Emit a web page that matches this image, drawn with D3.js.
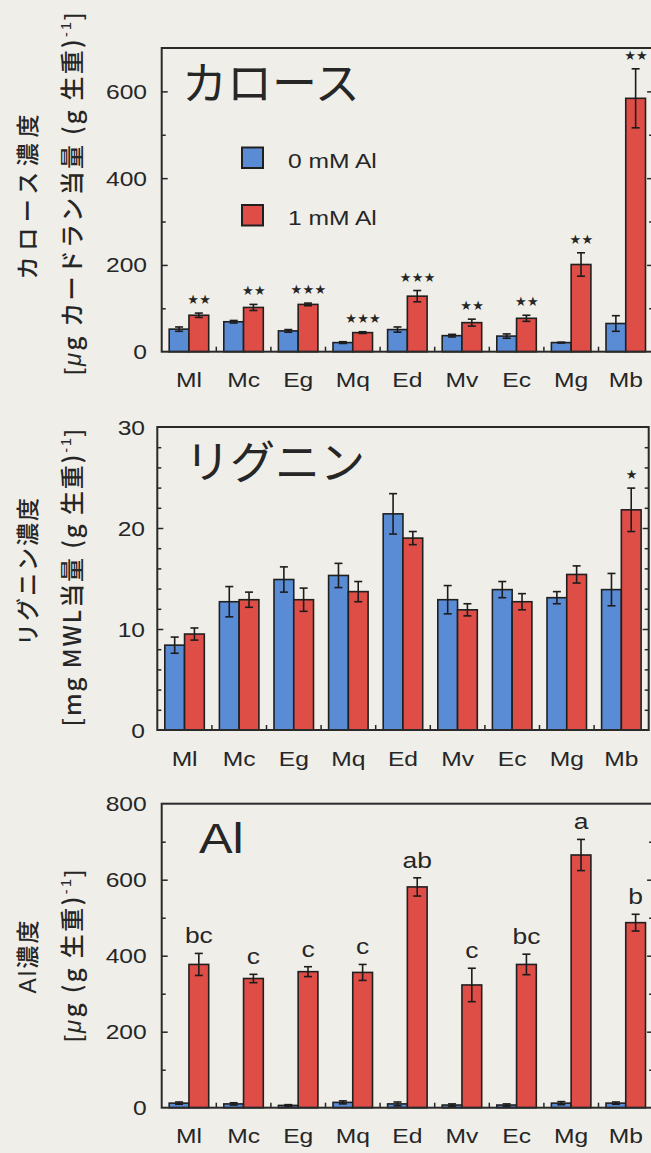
<!DOCTYPE html>
<html><head><meta charset="utf-8">
<script src="https://cdn.jsdelivr.net/npm/d3@7"></script>
<style>
html,body{margin:0;padding:0;background:#efeee9;}
svg{display:block;}
</style></head><body>
<svg id="fig" width="651" height="1153"></svg>
<script>
// Species (root samples)
const categories = ["Ml", "Mc", "Eg", "Mq", "Ed", "Mv", "Ec", "Mg", "Mb"];
const seriesNames = ["0 mM Al", "1 mM Al"];

// Callose concentration (µg curdlan equivalent per g fresh weight)
const callose0 = [52, 69, 48, 21, 51, 37, 36, 21, 65];
const callose0Err = [5, 3, 3, 2, 6, 3, 5, 1, 18];
const callose1 = [84, 102, 109, 44, 128, 67, 77, 201, 584];
const callose1Err = [5, 7, 3, 2, 13, 8, 7, 27, 68];
const calloseSig = ["★★", "★★", "★★★", "★★★", "★★★", "★★", "★★", "★★", "★★"];
const calloseTicks = [0, 200, 400, 600];

// Lignin concentration (mg MWL equivalent per g fresh weight)
const lignin0 = [8.4, 12.7, 14.9, 15.3, 21.4, 12.9, 13.9, 13.1, 13.9];
const lignin0Err = [0.8, 1.5, 1.25, 1.2, 2.0, 1.4, 0.8, 0.6, 1.6];
const lignin1 = [9.5, 12.9, 12.9, 13.7, 19.0, 11.9, 12.7, 15.4, 21.8];
const lignin1Err = [0.6, 0.75, 1.15, 1.0, 0.65, 0.6, 0.8, 0.85, 2.15];
const ligninSig = ["", "", "", "", "", "", "", "", "★"];
const ligninTicks = [0, 10, 20, 30];

// Al concentration (µg per g fresh weight)
const al0 = [12, 10, 6, 14, 10, 7, 7, 12, 12];
const al0Err = [3, 3, 2, 4, 5, 3, 3, 4, 3];
const al1 = [377, 340, 358, 356, 581, 323, 377, 665, 487];
const al1Err = [29, 11, 13, 21, 24, 44, 27, 41, 22];
const alLetters = ["bc", "c", "c", "c", "ab", "c", "bc", "a", "b"];
const alTicks = [0, 200, 400, 600, 800];

const svg = d3.select("#fig");
svg.append("rect").attr("width", 651).attr("height", 1153).attr("fill", "#efeee9");

const INK = "#262626";
const COLORS = ["#5a8cd6", "#df4d47"];
const LATIN = "'Liberation Sans', Arial, Helvetica, sans-serif";
const CJK = "'Noto Sans CJK JP', 'Noto Sans CJK SC', sans-serif";
const SX = 1.2;          // wide Latin face
const GROUP = 54.6;      // width of one species group

function wideText(g, x, y, str, size, anchor) {
  return g.append("text")
    .attr("transform", `translate(${x},${y}) scale(${SX},1)`)
    .attr("font-family", LATIN)
    .attr("font-size", size)
    .attr("text-anchor", anchor || "middle")
    .attr("fill", INK)
    .text(str);
}

function yTitle(g, cx, cy, parts, size, length) {
  const t = g.append("text")
    .attr("transform", `translate(${cx},${cy}) rotate(-90)`)
    .attr("text-anchor", "middle")
    .attr("dy", "0.36em")
    .attr("font-family", CJK)
    .attr("font-size", size)
    .attr("font-weight", 500)
    .attr("fill", INK)
    .attr("textLength", length)
    .attr("lengthAdjust", "spacing");
  parts.forEach(p => {
    const s = t.append("tspan").text(p.t);
    if (p.sup) s.attr("font-size", size * 0.6).attr("dy", -size * 0.42);
    if (p.down) s.attr("dy", size * 0.42);
    if (p.it) s.attr("font-style", "italic").attr("font-family", LATIN);
    if (p.latin) s.attr("font-family", LATIN);
  });
  return t;
}

function panel(p) {
  const g = svg.append("g");
  const right = p.left + categories.length * GROUP;
  const x = d3.scaleBand().domain(categories).range([p.left, right]).padding(0);
  const xi = d3.scaleBand().domain([0, 1]).range([7.5, 47]).padding(0);
  const y = d3.scaleLinear().domain([0, p.max]).range([p.bottom, p.top]);

  // inward ticks on left and right
  const minor = d3.range(p.step, p.max, p.step).filter(v => Math.abs(v % p.major) > 1e-9);
  const major = d3.range(p.major, p.max, p.major);
  const tickSets = [[minor, 4], [major, 6]];
  tickSets.forEach(([vals, len]) => {
    g.append("g").attr("transform", `translate(${p.left},0)`)
      .call(d3.axisLeft(y).tickValues(vals).tickSizeInner(-len).tickSizeOuter(0).tickFormat(""))
      .call(a => a.select(".domain").remove())
      .call(a => a.selectAll("line").attr("stroke", INK).attr("stroke-width", 1.5));
    g.append("g").attr("transform", `translate(${right},0)`)
      .call(d3.axisRight(y).tickValues(vals).tickSizeInner(-len).tickSizeOuter(0).tickFormat(""))
      .call(a => a.select(".domain").remove())
      .call(a => a.selectAll("line").attr("stroke", INK).attr("stroke-width", 1.5));
  });

  // y tick labels
  p.labels.forEach(v => wideText(g, p.labelRight, y(v) + 7.5, String(v), 20.5, "end"));

  // group separators on the category axis
  g.append("g").attr("transform", `translate(0,${p.bottom})`)
    .call(d3.axisBottom(x).tickValues(categories.slice(1)).tickSizeInner(-5).tickSizeOuter(0).tickFormat(""))
    .call(a => a.select(".domain").remove())
    .call(a => a.selectAll(".tick").attr("transform", d => `translate(${x(d)},0)`))
    .call(a => a.selectAll("line").attr("stroke", INK).attr("stroke-width", 1.5));

  // category labels
  categories.forEach(c => wideText(g, x(c) + x.bandwidth() / 2, p.bottom + 35.5, c, 20.5, "middle"));

  // bars + error bars
  [0, 1].forEach(s => {
    const vals = p.values[s], errs = p.errors[s];
    const d = categories.map((c, i) => ({ c, v: vals[i], e: errs[i] }));
    const bg = g.append("g");
    bg.selectAll("rect").data(d).join("rect")
      .attr("x", r => x(r.c) + xi(s))
      .attr("width", xi.bandwidth())
      .attr("y", r => y(r.v))
      .attr("height", r => y(0) - y(r.v))
      .attr("fill", COLORS[s])
      .attr("stroke", "#202020")
      .attr("stroke-width", 1.6);
    const eg = g.append("g").attr("stroke", "#1c1c1c").attr("stroke-width", 1.6);
    d.forEach(r => {
      const cx = x(r.c) + xi(s) + xi.bandwidth() / 2;
      const lo = y(Math.max(0, r.v - r.e)), hi = y(r.v + r.e);
      eg.append("line").attr("x1", cx).attr("x2", cx).attr("y1", lo).attr("y2", hi);
      eg.append("line").attr("x1", cx - 4).attr("x2", cx + 4).attr("y1", hi).attr("y2", hi);
      eg.append("line").attr("x1", cx - 4).attr("x2", cx + 4).attr("y1", lo).attr("y2", lo);
    });
  });

  // annotations over the 1 mM Al bars
  p.marks.forEach((m, i) => {
    if (!m) return;
    const c = categories[i];
    const cx = x(c) + xi(1) + xi.bandwidth() / 2;
    const top = y(p.values[1][i] + p.errors[1][i]);
    if (p.markType === "star") {
      g.append("text").attr("x", cx + 0.5).attr("y", top - 9)
        .attr("text-anchor", "middle")
        .attr("font-family", "'DejaVu Sans', sans-serif")
        .attr("font-size", 13).attr("letter-spacing", 0.3)
        .attr("fill", INK).text(m);
    } else {
      wideText(g, cx, top - 10, m, 22, "middle");
    }
  });

  // frame
  g.append("rect").attr("x", p.left).attr("y", p.top)
    .attr("width", right - p.left).attr("height", p.bottom - p.top)
    .attr("fill", "none").attr("stroke", "#2a2a2a").attr("stroke-width", 2);

  return { g, x, y };
}

// ---- Callose ----
const p1 = panel({
  left: 161.7, top: 48, bottom: 351.7, max: 700, step: 100, major: 200,
  labels: calloseTicks, labelRight: 147,
  values: [callose0, callose1], errors: [callose0Err, callose1Err],
  marks: calloseSig, markType: "star"
});
p1.g.append("text").attr("x", 182).attr("y", 100)
  .attr("font-family", CJK).attr("font-size", 45).attr("fill", INK).text("カロース");
// legend
[0, 1].forEach(s => {
  const ly = s === 0 ? 147.5 : 205;
  p1.g.append("rect").attr("x", 242).attr("y", ly).attr("width", 21).attr("height", 20.5)
    .attr("fill", COLORS[s]).attr("stroke", "#202020").attr("stroke-width", 2);
  wideText(p1.g, 288, ly + 20, seriesNames[s], 20.5, "start");
});
yTitle(svg, 28, 197, [{ t: "カロース濃度" }], 23, 165);
yTitle(svg, 72, 194, [
  { t: "[" , latin: true }, { t: "μ", it: true }, { t: "g カードラン当量 (g 生重)" },
  { t: "-1", sup: true, latin: true }, { t: "]", down: true, latin: true }
], 24, 362);

// ---- Lignin ----
const p2 = panel({
  left: 157.3, top: 427, bottom: 730, max: 30, step: 2, major: 10,
  labels: ligninTicks, labelRight: 145,
  values: [lignin0, lignin1], errors: [lignin0Err, lignin1Err],
  marks: ligninSig, markType: "star"
});
p2.g.append("text").attr("x", 185).attr("y", 479)
  .attr("font-family", CJK).attr("font-size", 45).attr("fill", INK).text("リグニン");
yTitle(svg, 28, 572, [{ t: "リグニン濃度" }], 23, 148);
yTitle(svg, 72, 578, [
  { t: "[mg MWL当量 (g 生重)" },
  { t: "-1", sup: true, latin: true }, { t: "]", down: true, latin: true }
], 24, 297);

// ---- Al ----
const p3 = panel({
  left: 161.7, top: 803.7, bottom: 1107.7, max: 800, step: 100, major: 200,
  labels: alTicks, labelRight: 146.7,
  values: [al0, al1], errors: [al0Err, al1Err],
  marks: alLetters, markType: "letter"
});
wideText(p3.g, 199, 853, "Al", 42, "start");
yTitle(svg, 28, 957, [{ t: "Al", latin: true }, { t: "濃度" }], 23, 73);
yTitle(svg, 72, 956, [
  { t: "[" , latin: true }, { t: "μ", it: true }, { t: "g (g  生重)" },
  { t: "-1", sup: true, latin: true }, { t: "]", down: true, latin: true }
], 24, 172);
</script>
</body></html>
